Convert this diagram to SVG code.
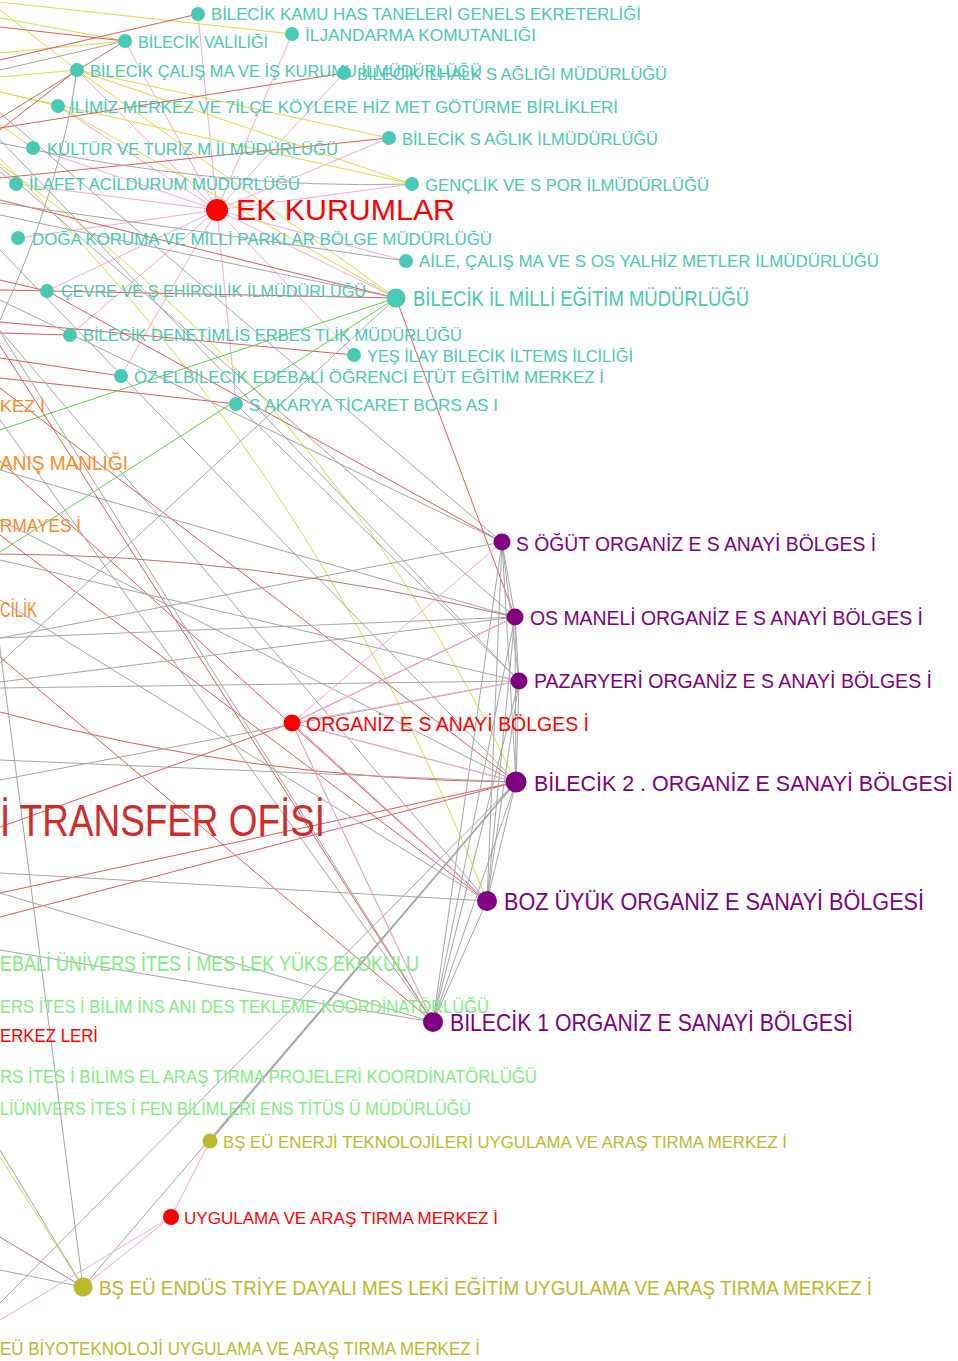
<svg xmlns="http://www.w3.org/2000/svg" width="958" height="1361" viewBox="0 0 958 1361">
<style>
text{font-family:"Liberation Sans",Arial,sans-serif;}
.e{fill:none;stroke-width:1}
.g{stroke:#a6a6a6}.r{stroke:#e25a5a}.p{stroke:#f2aad8}.y{stroke:#dcdc3c}.b{stroke:#b07a6c}.gr{stroke:#62cf48}
.tc{fill:#48cab4}.tt{fill:#48cab4;font-size:17px}
.pc{fill:#800080}.pt{fill:#800080}
.rc{fill:#ff0000}.rt{fill:#ff0000}
.oc{fill:#bcba2c}.ot{fill:#bcba2c}
.lg{fill:#80ee80}.or{fill:#ff8a1e}
</style>
<rect width="958" height="1361" fill="#ffffff"/>
<g id="edges">
<!-- pink star from EK KURUMLAR -->
<path class="e p" d="M217,210L198,14M217,210L125,41M217,210L292,34M217,210L77,70M217,210L344,73M217,210L58,106M217,210L389,138M217,210L33,148M217,210L16,184M217,210L412,184M217,210L18,238M217,210L406,261M217,210L47,291M217,210L396,298M217,210L70,335M217,210L354,355M217,210L121,376M217,210L236,404"/>
<!-- yellow -->
<path class="e y" d="M0,2L292,34M0,18L125,41M0,53L125,41M0,10L77,70M0,77L77,70M0,92L58,106M0,125L33,148M77,70L389,138M77,70L412,184M0,92L412,184M77,70L396,298M58,106L396,298M0,1157L83,1287"/>
<path class="e y" d="M-40,120Q310,448 487,901M-20,150Q330,390 516,782"/>
<!-- red -->
<path class="e r" d="M0,60L198,14M0,27L125,41M0,130L77,70M0,128L344,73M0,178L389,138M0,200L396,298M0,290L396,298M0,280L47,291M47,291L502,542M0,322L354,355M0,333L70,335M0,358L121,376M0,378L236,404M396,298L515,617M0,388L516,782M0,461L487,901M0,535L487,901M0,657L433,1022M-10,330L433,1022M0,893L516,782M0,917L516,782M292,723L0,827M292,723L515,617M292,723L487,901"/>
<path class="e r" d="M0,712Q250,780 516,782"/>
<!-- gray -->
<path class="e g" d="M0,70L125,41M0,203L406,261M0,215L396,298M396,298L0,663M0,113L502,542M0,167L515,617M0,140L519,681M0,300L502,542M0,638L502,542M0,638L515,617M0,682L515,617M0,688L519,681M236,404L519,681M0,873L487,901M0,893L433,1022M-5,610L83,1287M516,782L83,1287M516,782L0,1303M0,1150L83,1287M0,1270L83,1287M0,250L516,782M0,330L487,901M0,420L433,1022M0,520L516,782M0,600L487,901M0,760L516,782M0,950L433,1022M0,470L515,617M0,560L519,681M0,780L519,681M-20,300L433,1022M292,723L516,782M292,723L433,1022M0,172L16,184"/>
<path class="e g" d="M0,143Q220,190 412,184M77,70Q60,190 0,320"/>
<path class="e g" style="stroke-width:1.6" d="M516,782L210,1141"/>
<!-- purple clique -->
<path class="e g" d="M502,542L515,617M502,542L519,681M502,542L516,782M502,542L487,901M502,542L433,1022M515,617L519,681M515,617L516,782M515,617L487,901M515,617L433,1022M519,681L516,782M519,681L487,901M519,681L433,1022M516,782L487,901M516,782L433,1022M487,901L433,1022"/>
<!-- brown -->
<path class="e b" d="M0,118L125,41M0,1237L83,1287"/>
<path class="e b" d="M0,554Q250,555 515,617"/>
<!-- green -->
<path class="e gr" d="M396,298L0,430M396,298L0,552"/>
<!-- pink others -->
<path class="e p" d="M292,723L502,542M292,723L515,617M292,723L519,681M292,723L516,782M292,723L487,901M292,723L433,1022M83,1287L171,1217M0,1320L171,1217M171,1217L210,1141"/>
</g>

<g id="n-kamu"><circle class="tc" cx="198" cy="14" r="7"/><text class="tt" x="211" y="20" textLength="430" lengthAdjust="spacingAndGlyphs">BİLECİK KAMU HAS TANELERİ GENELS EKRETERLİĞİ</text></g>
<g id="n-valilik"><circle class="tc" cx="125" cy="41" r="7"/><text class="tt" x="138" y="48" textLength="130" lengthAdjust="spacingAndGlyphs">BİLECİK VALİLİĞİ</text></g>
<g id="n-jandarma"><circle class="tc" cx="292" cy="34" r="7"/><text class="tt" x="305" y="41" textLength="231" lengthAdjust="spacingAndGlyphs">İLJANDARMA KOMUTANLIĞI</text></g>
<g id="n-calisma"><circle class="tc" cx="77" cy="70" r="7"/><text class="tt" x="90" y="77" textLength="392" lengthAdjust="spacingAndGlyphs">BİLECİK ÇALIŞ MA VE İŞ KURUMU İLMÜDÜRLÜĞÜ</text></g>
<g id="n-halk"><circle class="tc" cx="344" cy="73" r="7"/><text class="tt" x="357" y="80" textLength="310" lengthAdjust="spacingAndGlyphs">BİLECİK İLHALK S AĞLIĞI MÜDÜRLÜĞÜ</text></g>
<g id="n-ilimiz"><circle class="tc" cx="58" cy="106" r="7"/><text class="tt" x="70" y="113" textLength="548" lengthAdjust="spacingAndGlyphs">İLİMİZ MERKEZ VE 7İLÇE KÖYLERE HİZ MET GÖTÜRME BİRLİKLERİ</text></g>
<g id="n-saglik"><circle class="tc" cx="389" cy="138" r="7"/><text class="tt" x="402" y="145" textLength="256" lengthAdjust="spacingAndGlyphs">BİLECİK S AĞLIK İLMÜDÜRLÜĞÜ</text></g>
<g id="n-kultur"><circle class="tc" cx="33" cy="148" r="7"/><text class="tt" x="47" y="155" textLength="291" lengthAdjust="spacingAndGlyphs">KÜLTÜR VE TURİZ M İLMÜDÜRLÜĞÜ</text></g>
<g id="n-afet"><circle class="tc" cx="16" cy="184" r="7"/><text class="tt" x="29" y="190" textLength="271" lengthAdjust="spacingAndGlyphs">İLAFET ACİLDURUM MÜDÜRLÜĞÜ</text></g>
<g id="n-genclik"><circle class="tc" cx="412" cy="184" r="7"/><text class="tt" x="425" y="191" textLength="284" lengthAdjust="spacingAndGlyphs">GENÇLİK VE S POR İLMÜDÜRLÜĞÜ</text></g>
<g id="n-ek"><circle class="rc" cx="217" cy="210" r="11"/><text class="rt" x="236" y="220" font-size="30" textLength="219" lengthAdjust="spacingAndGlyphs">EK KURUMLAR</text></g>
<g id="n-doga"><circle class="tc" cx="18" cy="238" r="7"/><text class="tt" x="32" y="245" textLength="460" lengthAdjust="spacingAndGlyphs">DOĞA KORUMA VE MİLLİ PARKLAR BÖLGE MÜDÜRLÜĞÜ</text></g>
<g id="n-aile"><circle class="tc" cx="406" cy="261" r="7"/><text class="tt" x="419" y="267" textLength="460" lengthAdjust="spacingAndGlyphs">AİLE, ÇALIŞ MA VE S OS YALHİZ METLER İLMÜDÜRLÜĞÜ</text></g>
<g id="n-cevre"><circle class="tc" cx="47" cy="291" r="7"/><text class="tt" x="61" y="297" textLength="305" lengthAdjust="spacingAndGlyphs">ÇEVRE VE Ş EHİRCİLİK İLMÜDÜRLÜĞÜ</text></g>
<g id="n-meb"><circle class="tc" cx="396" cy="298" r="9.5"/><text class="tc" x="413" y="306" font-size="22" textLength="336" lengthAdjust="spacingAndGlyphs">BİLECİK İL MİLLİ EĞİTİM MÜDÜRLÜĞÜ</text></g>
<g id="n-denetim"><circle class="tc" cx="70" cy="335" r="7"/><text class="tt" x="83" y="341" textLength="379" lengthAdjust="spacingAndGlyphs">BİLECİK DENETİMLİS ERBES TLİK MÜDÜRLÜĞÜ</text></g>
<g id="n-yesilay"><circle class="tc" cx="354" cy="355" r="7"/><text class="tt" x="367" y="362" textLength="266" lengthAdjust="spacingAndGlyphs">YEŞ İLAY BİLECİK İLTEMS İLCİLİĞİ</text></g>
<g id="n-ozel"><circle class="tc" cx="121" cy="376" r="7"/><text class="tt" x="134" y="383" textLength="470" lengthAdjust="spacingAndGlyphs">ÖZ ELBİLECİK EDEBALİ ÖĞRENCİ ETÜT EĞİTİM MERKEZ İ</text></g>
<g id="n-sakarya"><circle class="tc" cx="236" cy="404" r="7"/><text class="tt" x="249" y="411" textLength="249" lengthAdjust="spacingAndGlyphs">S AKARYA TİCARET BORS AS I</text></g>

<g id="n-orange1"><text class="or" x="0" y="412" font-size="17" textLength="45" lengthAdjust="spacingAndGlyphs">KEZ İ</text></g>
<g id="n-orange2"><text class="or" x="0" y="470" font-size="21" textLength="128" lengthAdjust="spacingAndGlyphs">ANIŞ MANLIĞI</text></g>
<g id="n-orange3"><text class="or" x="0" y="532" font-size="18" textLength="81" lengthAdjust="spacingAndGlyphs">RMAYES İ</text></g>
<g id="n-orange4"><text class="or" x="0" y="617" font-size="22" textLength="37" lengthAdjust="spacingAndGlyphs">CİLİK</text></g>

<g id="n-sogut"><circle class="pc" cx="502" cy="542" r="8.5"/><text class="pt" x="516" y="551" font-size="20" textLength="360" lengthAdjust="spacingAndGlyphs">S ÖĞÜT ORGANİZ E S ANAYİ BÖLGES İ</text></g>
<g id="n-osmaneli"><circle class="pc" cx="515" cy="617" r="8.5"/><text class="pt" x="530" y="625" font-size="20" textLength="393" lengthAdjust="spacingAndGlyphs">OS MANELİ ORGANİZ E S ANAYİ BÖLGES İ</text></g>
<g id="n-pazaryeri"><circle class="pc" cx="519" cy="681" r="8.5"/><text class="pt" x="534" y="688" font-size="20" textLength="398" lengthAdjust="spacingAndGlyphs">PAZARYERİ ORGANİZ E S ANAYİ BÖLGES İ</text></g>
<g id="n-bilecik2"><circle class="pc" cx="516" cy="782" r="10.5"/><text class="pt" x="534" y="791" font-size="21.5" textLength="419" lengthAdjust="spacingAndGlyphs">BİLECİK 2 . ORGANİZ E SANAYİ BÖLGESİ</text></g>
<g id="n-bozuyuk"><circle class="pc" cx="487" cy="901" r="10"/><text class="pt" x="504" y="910" font-size="23" textLength="420" lengthAdjust="spacingAndGlyphs">BOZ ÜYÜK ORGANİZ E SANAYİ BÖLGESİ</text></g>
<g id="n-bilecik1"><circle class="pc" cx="433" cy="1022" r="10"/><text class="pt" x="450" y="1031" font-size="24" textLength="403" lengthAdjust="spacingAndGlyphs">BİLECİK 1 ORGANİZ E SANAYİ BÖLGESİ</text></g>

<g id="n-organize"><circle class="rc" cx="292" cy="723" r="8.5"/><text class="rt" x="306" y="731" font-size="20" textLength="283" lengthAdjust="spacingAndGlyphs">ORGANİZ E S ANAYİ BÖLGES İ</text></g>
<g id="n-transfer"><text x="0" y="836" font-size="44" fill="#d42a2a" textLength="325" lengthAdjust="spacingAndGlyphs">İ TRANSFER OFİSİ</text></g>
<g id="n-merkezleri"><text class="rt" x="0" y="1042" font-size="18" textLength="98" lengthAdjust="spacingAndGlyphs">ERKEZ LERİ</text></g>
<g id="n-uygulama"><circle class="rc" cx="171" cy="1217" r="8"/><text class="rt" x="184" y="1224" font-size="17" textLength="314" lengthAdjust="spacingAndGlyphs">UYGULAMA VE ARAŞ TIRMA MERKEZ İ</text></g>

<g id="n-myo"><text class="lg" x="0" y="971" font-size="22" textLength="419" lengthAdjust="spacingAndGlyphs">EBALİ ÜNİVERS İTES İ MES LEK YÜKS EKOKULU</text></g>
<g id="n-bilimins"><text class="lg" x="0" y="1013" font-size="18" textLength="489" lengthAdjust="spacingAndGlyphs">ERS İTES İ BİLİM İNS ANI DES TEKLEME KOORDİNATÖRLÜĞÜ</text></g>
<g id="n-bap"><text class="lg" x="0" y="1083" font-size="18" textLength="537" lengthAdjust="spacingAndGlyphs">RS İTES İ BİLİMS EL ARAŞ TIRMA PROJELERİ KOORDİNATÖRLÜĞÜ</text></g>
<g id="n-fen"><text class="lg" x="0" y="1115" font-size="18" textLength="471" lengthAdjust="spacingAndGlyphs">LİÜNİVERS İTES İ FEN BİLİMLERİ ENS TİTÜS Ü MÜDÜRLÜĞÜ</text></g>

<g id="n-enerji"><circle class="oc" cx="210" cy="1141" r="7.5"/><text class="ot" x="223" y="1148" font-size="17" textLength="564" lengthAdjust="spacingAndGlyphs">BŞ EÜ ENERJİ TEKNOLOJİLERİ UYGULAMA VE ARAŞ TIRMA MERKEZ İ</text></g>
<g id="n-endustri"><circle class="oc" cx="83" cy="1287" r="9.5"/><text class="ot" x="99" y="1295" font-size="20.5" textLength="773" lengthAdjust="spacingAndGlyphs">BŞ EÜ ENDÜS TRİYE DAYALI MES LEKİ EĞİTİM UYGULAMA VE ARAŞ TIRMA MERKEZ İ</text></g>
<g id="n-biyotek"><text class="ot" x="0" y="1355" font-size="18" textLength="480" lengthAdjust="spacingAndGlyphs">EÜ BİYOTEKNOLOJİ UYGULAMA VE ARAŞ TIRMA MERKEZ İ</text></g>
</svg>
